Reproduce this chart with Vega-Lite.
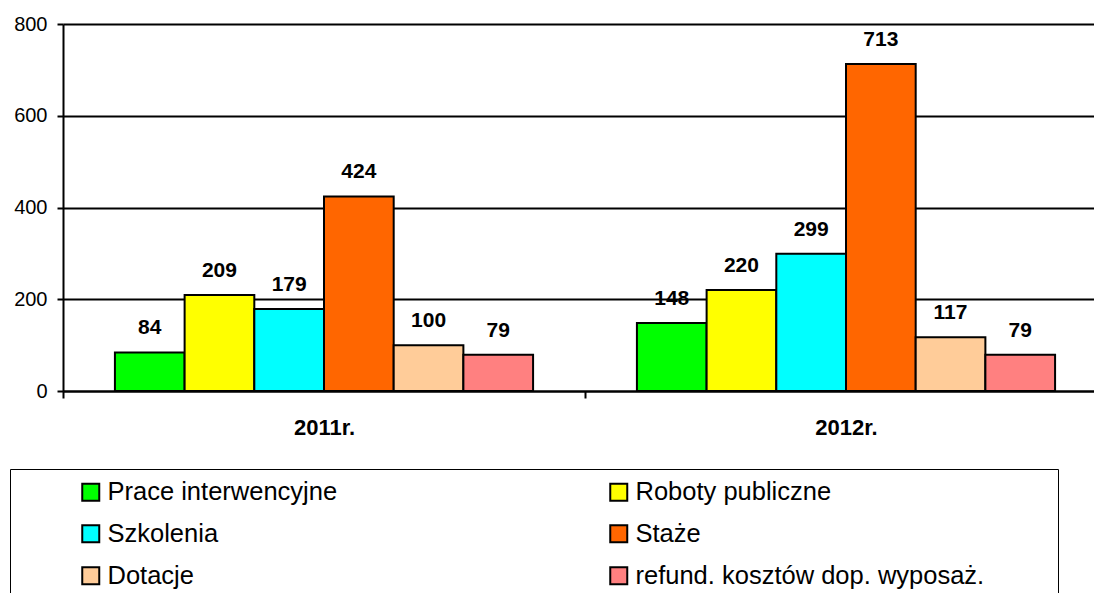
{
  "$schema": "https://vega.github.io/schema/vega-lite/v6.json",
  "autosize": {"type": "none"},
  "padding": {"left": 63, "top": 24, "right": -13, "bottom": 202},
  "width": 1044,
  "height": 367,
  "background": "white",
  "config": {
    "view": {"stroke": null},
    "font": "Liberation Sans"
  },
  "data": {
    "values": [
      {"year": "2011r.", "cat": "Prace interwencyjne", "value": 84},
      {"year": "2011r.", "cat": "Roboty publiczne", "value": 209},
      {"year": "2011r.", "cat": "Szkolenia", "value": 179},
      {"year": "2011r.", "cat": "Staże", "value": 424},
      {"year": "2011r.", "cat": "Dotacje", "value": 100},
      {"year": "2011r.", "cat": "refund. kosztów dop. wyposaż.", "value": 79},
      {"year": "2012r.", "cat": "Prace interwencyjne", "value": 148},
      {"year": "2012r.", "cat": "Roboty publiczne", "value": 220},
      {"year": "2012r.", "cat": "Szkolenia", "value": 299},
      {"year": "2012r.", "cat": "Staże", "value": 713},
      {"year": "2012r.", "cat": "Dotacje", "value": 117},
      {"year": "2012r.", "cat": "refund. kosztów dop. wyposaż.", "value": 79}
    ]
  },
  "encoding": {
    "x": {
      "field": "year",
      "type": "nominal",
      "scale": {"paddingInner": 0, "paddingOuter": 0},
      "axis": {
        "title": null,
        "labelAngle": 0,
        "labelFont": "Liberation Sans",
        "labelFontSize": 22,
        "labelFontWeight": "bold",
        "labelColor": "black",
        "labelPadding": 19,
        "tickBand": "extent",
        "tickSize": 7,
        "tickColor": "black",
        "tickWidth": 2,
        "domainColor": "black",
        "domainWidth": 2,
        "grid": false
      }
    },
    "xOffset": {
      "field": "cat",
      "type": "nominal",
      "sort": null,
      "scale": {"paddingInner": 0, "paddingOuter": 0.745}
    },
    "y": {
      "field": "value",
      "type": "quantitative",
      "scale": {"domain": [0, 800]},
      "axis": {
        "title": null,
        "values": [0, 200, 400, 600, 800],
        "labelFont": "Liberation Sans",
        "labelFontSize": 20,
        "labelColor": "black",
        "labelPadding": 10,
        "tickSize": 6,
        "tickColor": "black",
        "tickWidth": 2,
        "domainColor": "black",
        "domainWidth": 2,
        "grid": true,
        "gridColor": "black",
        "gridWidth": 2,
        "gridOpacity": 1
      }
    }
  },
  "layer": [
    {
      "mark": {"type": "bar", "stroke": "black", "strokeWidth": 2},
      "encoding": {
        "color": {
          "field": "cat",
          "type": "nominal",
          "sort": null,
          "scale": {
            "domain": ["Prace interwencyjne", "Roboty publiczne", "Szkolenia", "Staże", "Dotacje", "refund. kosztów dop. wyposaż."],
            "range": ["#00FF00", "#FFFF00", "#00FFFF", "#FF6600", "#FFCC99", "#FF8080"]
          },
          "legend": {
            "orient": "none",
            "legendX": -53,
            "legendY": 445,
            "direction": "horizontal",
            "columns": 2,
            "gridAlign": "each",
            "columnPadding": 268,
            "rowPadding": 15,
            "padding": 10,
            "strokeColor": "black",
            "fillColor": "white",
            "title": " ",
            "titleOrient": "left",
            "titleFontSize": 10,
            "titlePadding": 58,
            "symbolType": "square",
            "symbolSize": 289,
            "symbolStrokeColor": "black",
            "symbolStrokeWidth": 2,
            "symbolOpacity": 1,
            "labelFont": "Liberation Sans",
            "labelFontSize": 25.5,
            "labelColor": "black",
            "labelOffset": 4,
            "labelLimit": 700,
            "labelExpr": "indexof(datum.label, 'refund') >= 0 ? datum.label + '\u00a0\u00a0\u00a0\u00a0\u00a0\u00a0\u00a0\u00a0\u00a0\u200b' : datum.label"
          }
        }
      }
    },
    {
      "mark": {
        "type": "text",
        "baseline": "middle",
        "align": "center",
        "dy": -24,
        "font": "Liberation Sans",
        "fontSize": 21,
        "fontWeight": "bold",
        "color": "black"
      },
      "encoding": {
        "text": {"field": "value", "type": "quantitative"}
      }
    }
  ]
}
